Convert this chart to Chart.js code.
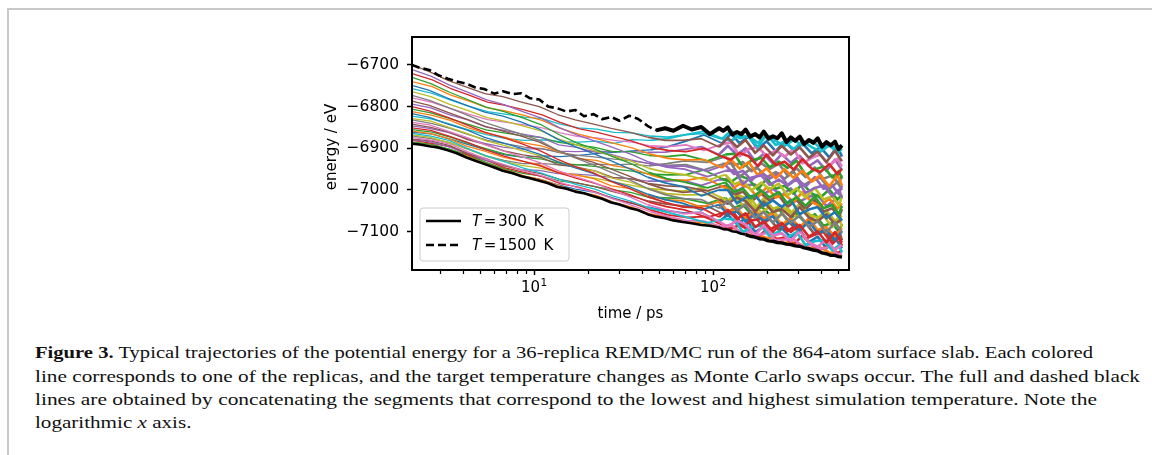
<!DOCTYPE html>
<html><head><meta charset="utf-8">
<script src="https://cdn.jsdelivr.net/npm/chart.js@4/dist/chart.umd.min.js"></script>
<style>
html,body{margin:0;padding:0;background:#fff;width:1152px;height:455px;overflow:hidden;position:relative;}
#frame{position:absolute;left:7px;top:8px;width:1145px;height:447px;border-top:2px solid #c8c8c8;border-left:2px solid #c8c8c8;box-sizing:border-box;}
#c{position:absolute;left:0;top:0;}
.cap{position:absolute;left:35px;font-family:"Liberation Serif","Times New Roman",serif;font-size:17.5px;color:#111;white-space:nowrap;transform-origin:0 0;line-height:17px;}
</style></head><body>
<div id="frame"></div>
<canvas id="c" width="1152" height="330" style="width:1152px;height:330px"></canvas>
<div class="cap" id="l1" style="top:344px"><b>Figure 3.</b> Typical trajectories of the potential energy for a 36-replica REMD/MC run of the 864-atom surface slab. Each colored</div>
<div class="cap" id="l2" style="top:367.5px">line corresponds to one of the replicas, and the target temperature changes as Monte Carlo swaps occur. The full and dashed black</div>
<div class="cap" id="l3" style="top:391px">lines are obtained by concatenating the segments that correspond to the lowest and highest simulation temperature. Note the</div>
<div class="cap" id="l4" style="top:414px">logarithmic <i>x</i> axis.</div>
<script>
// ---------- data (ps, eV) ----------
const timeColoredA = [2.08,2.6,3.3,4.2,5.3,6.7,8.5,10.7,13.5,17,21.5,27,34,43,54,68,86,108,121,136,152,172,192,216,242,272,305,343,384,430,480,525];
const timeColoredB = [2.08,2.7,3.4,4.3,5.5,6.9,8.8,11.1,14,17.7,22.3,28,35.3,44.6,56,70.6,89,112,126,141,158,178,199,224,251,282,316,356,398,446,496,525];
const timeColoredC = [2.08,2.65,3.35,4.25,5.4,6.8,8.65,10.9,13.75,17.3,21.9,27.5,34.6,43.8,55,69.3,93,117,131,147,164,186,207,233,261,293,329,370,414,464,505,525];
const timeBlack = [2.08,2.3,2.6,2.9,3.3,3.7,4.2,4.7,5.3,6.0,6.7,7.6,8.5,9.5,10.7,12,13.5,15.2,17,19,21.5,24,27,30,34,38,43,48,54,60,68,76,86,96,108,114,121,128,136,144,152,161,172,182,192,204,216,229,242,257,272,288,305,323,343,363,384,406,430,455,480,502,525];
const energyT300 = [-6889,-6891,-6895,-6898,-6905,-6912,-6922,-6930,-6938,-6946,-6954,-6960,-6967,-6972,-6978,-6984,-6993,-6997,-7004,-7008,-7015,-7021,-7030,-7035,-7043,-7048,-7058,-7064,-7068,-7073,-7077,-7080,-7084,-7086,-7090,-7094,-7095,-7099,-7101,-7105,-7107,-7111,-7113,-7117,-7118,-7122,-7123,-7126,-7127,-7130,-7131,-7134,-7135,-7139,-7141,-7144,-7146,-7151,-7153,-7157,-7157,-7160,-7161];
const energyT1500 = [-6700,-6707,-6712,-6724,-6733,-6740,-6745,-6754,-6758,-6769,-6763,-6770,-6768,-6780,-6783,-6800,-6804,-6812,-6808,-6823,-6818,-6830,-6825,-6834,-6822,-6829,-6846,-6857,-6852,-6858,-6846,-6855,-6849,-6866,-6852,-6858,-6850,-6867,-6861,-6866,-6855,-6872,-6866,-6874,-6860,-6877,-6871,-6876,-6864,-6885,-6874,-6882,-6872,-6890,-6880,-6887,-6876,-6896,-6885,-6893,-6884,-6902,-6893];

const r00 = [-6889,-6895,-6903,-6923,-6937,-6955,-6966,-6974,-6987,-6998,-7005,-7018,-7031,-7041,-7049,-7055,-7054,-7076,-7059,-7082,-7068,-7101,-7088,-7113,-7092,-7113,-7097,-7125,-7112,-7140,-7114,-7140];
const r01 = [-6887,-6891,-6903,-6919,-6937,-6951,-6966,-6976,-6991,-7004,-7013,-7030,-7041,-7058,-7066,-7077,-7079,-7090,-7088,-7099,-7107,-7108,-7115,-7115,-7127,-7126,-7132,-7141,-7138,-7150,-7152,-7161];
const r02 = [-6885,-6890,-6902,-6916,-6934,-6949,-6960,-6966,-6978,-6983,-6992,-7000,-7006,-7018,-7019,-7021,-7032,-7019,-7043,-7035,-7059,-7040,-7058,-7045,-7074,-7057,-7079,-7058,-7086,-7079,-7101,-7081];
const r03 = [-6881,-6888,-6896,-6916,-6930,-6947,-6958,-6968,-6985,-6993,-7005,-7022,-7031,-7048,-7060,-7066,-7064,-7083,-7093,-7084,-7095,-7113,-7095,-7118,-7114,-7131,-7109,-7133,-7143,-7132,-7152,-7145];
const r04 = [-6880,-6884,-6896,-6911,-6928,-6940,-6951,-6953,-6961,-6962,-6965,-6970,-6973,-6979,-6979,-6977,-6989,-6975,-6974,-7004,-6989,-6987,-7010,-6997,-7013,-6996,-7028,-7016,-7012,-7039,-7023,-7043];
const r05 = [-6878,-6882,-6893,-6912,-6925,-6942,-6953,-6961,-6974,-6983,-6992,-7004,-7014,-7027,-7034,-7039,-7039,-7060,-7043,-7065,-7052,-7084,-7070,-7095,-7074,-7095,-7079,-7107,-7094,-7121,-7096,-7121];
const r06 = [-6874,-6881,-6890,-6909,-6927,-6940,-6954,-6966,-6982,-6995,-7007,-7022,-7037,-7052,-7064,-7073,-7075,-7088,-7083,-7101,-7100,-7108,-7103,-7120,-7119,-7118,-7135,-7131,-7141,-7137,-7154,-7153];
const r07 = [-6870,-6877,-6886,-6902,-6918,-6929,-6937,-6936,-6940,-6940,-6938,-6940,-6938,-6942,-6937,-6930,-6934,-6920,-6941,-6933,-6955,-6936,-6950,-6937,-6965,-6948,-6969,-6946,-6973,-6965,-6986,-6965];
const r08 = [-6868,-6873,-6886,-6900,-6918,-6931,-6941,-6947,-6957,-6964,-6971,-6980,-6988,-6996,-7000,-7003,-6995,-7016,-7026,-7011,-7020,-7045,-7020,-7045,-7038,-7057,-7033,-7058,-7067,-7050,-7074,-7062];
const r09 = [-6864,-6871,-6881,-6900,-6918,-6932,-6947,-6959,-6974,-6987,-6998,-7014,-7027,-7043,-7053,-7064,-7079,-7069,-7071,-7101,-7088,-7086,-7110,-7100,-7114,-7101,-7132,-7123,-7120,-7145,-7133,-7150];
const r10 = [-6861,-6866,-6878,-6891,-6905,-6916,-6922,-6918,-6920,-6917,-6913,-6910,-6906,-6904,-6896,-6883,-6868,-6888,-6865,-6888,-6871,-6902,-6883,-6907,-6884,-6905,-6888,-6912,-6897,-6922,-6895,-6920];
const r11 = [-6859,-6864,-6876,-6895,-6907,-6921,-6931,-6939,-6957,-6964,-6973,-6990,-6996,-7012,-7023,-7026,-7041,-7028,-7052,-7044,-7068,-7050,-7068,-7055,-7084,-7067,-7089,-7068,-7096,-7089,-7112,-7091];
const r12 = [-6855,-6861,-6873,-6888,-6902,-6914,-6922,-6926,-6936,-6940,-6944,-6950,-6955,-6962,-6964,-6963,-6952,-6973,-6981,-6966,-6974,-6999,-6973,-6997,-6990,-7009,-6985,-7008,-7018,-6999,-7023,-7011];
const r13 = [-6851,-6857,-6871,-6886,-6904,-6919,-6931,-6943,-6959,-6972,-6984,-6998,-7012,-7029,-7040,-7048,-7066,-7053,-7055,-7087,-7073,-7069,-7095,-7083,-7099,-7083,-7117,-7107,-7101,-7129,-7114,-7134];
const r14 = [-6846,-6852,-6862,-6876,-6888,-6897,-6902,-6901,-6907,-6908,-6907,-6908,-6908,-6910,-6909,-6903,-6896,-6915,-6894,-6916,-6900,-6931,-6913,-6937,-6914,-6935,-6918,-6943,-6929,-6954,-6927,-6952];
const r15 = [-6842,-6850,-6861,-6879,-6891,-6906,-6916,-6922,-6940,-6945,-6954,-6970,-6973,-6985,-6990,-6992,-7002,-6989,-7012,-7004,-7027,-7009,-7025,-7013,-7041,-7024,-7046,-7024,-7052,-7044,-7066,-7046];
const r16 = [-6838,-6844,-6859,-6874,-6891,-6906,-6920,-6934,-6953,-6968,-6982,-7000,-7016,-7035,-7047,-7057,-7054,-7076,-7088,-7073,-7083,-7108,-7085,-7110,-7104,-7123,-7099,-7125,-7136,-7119,-7144,-7132];
const r17 = [-6832,-6841,-6852,-6867,-6881,-6889,-6897,-6901,-6911,-6917,-6921,-6926,-6930,-6937,-6941,-6939,-6952,-6938,-6936,-6968,-6953,-6948,-6970,-6957,-6973,-6956,-6990,-6977,-6970,-6997,-6981,-7000];
const r18 = [-6829,-6835,-6850,-6865,-6882,-6893,-6906,-6918,-6932,-6947,-6955,-6972,-6981,-6998,-7009,-7012,-7011,-7032,-7014,-7037,-7023,-7055,-7040,-7065,-7044,-7065,-7048,-7076,-7062,-7089,-7064,-7089];
const r19 = [-6823,-6830,-6842,-6856,-6868,-6876,-6881,-6880,-6884,-6885,-6883,-6888,-6879,-6881,-6877,-6867,-6864,-6878,-6858,-6876,-6871,-6887,-6868,-6882,-6894,-6880,-6893,-6881,-6900,-6893,-6901,-6893];
const r20 = [-6817,-6826,-6842,-6856,-6874,-6887,-6900,-6914,-6932,-6947,-6961,-6978,-6992,-7010,-7023,-7032,-7048,-7035,-7059,-7051,-7076,-7057,-7075,-7063,-7092,-7075,-7097,-7076,-7104,-7097,-7120,-7099];
const r21 = [-6812,-6821,-6833,-6851,-6865,-6874,-6887,-6895,-6909,-6925,-6929,-6942,-6949,-6964,-6975,-6977,-6970,-6991,-7000,-6985,-6994,-7018,-6993,-7018,-7011,-7029,-7005,-7029,-7039,-7020,-7045,-7032];
const r22 = [-6806,-6815,-6828,-6842,-6856,-6863,-6870,-6874,-6886,-6892,-6898,-6908,-6908,-6917,-6920,-6916,-6930,-6915,-6913,-6945,-6929,-6923,-6945,-6932,-6947,-6930,-6964,-6951,-6944,-6970,-6954,-6973];
const r23 = [-6800,-6810,-6826,-6844,-6861,-6874,-6889,-6905,-6926,-6944,-6959,-6980,-6996,-7016,-7030,-7041,-7043,-7065,-7048,-7070,-7056,-7089,-7075,-7100,-7079,-7101,-7084,-7112,-7099,-7126,-7101,-7126];
const r24 = [-6794,-6803,-6819,-6832,-6849,-6857,-6866,-6874,-6892,-6898,-6909,-6916,-6928,-6937,-6943,-6943,-6955,-6940,-6962,-6954,-6977,-6957,-6973,-6960,-6988,-6971,-6992,-6969,-6997,-6989,-7010,-6989];
const r25 = [-6787,-6797,-6814,-6830,-6847,-6859,-6871,-6885,-6905,-6921,-6934,-6950,-6967,-6985,-6998,-7006,-7002,-7023,-7033,-7018,-7027,-7052,-7028,-7053,-7046,-7065,-7041,-7066,-7075,-7058,-7082,-7070];
const r26 = [-6779,-6790,-6804,-6818,-6831,-6837,-6844,-6851,-6863,-6872,-6875,-6881,-6885,-6894,-6896,-6892,-6905,-6890,-6886,-6919,-6902,-6897,-6918,-6905,-6920,-6902,-6936,-6923,-6915,-6941,-6925,-6944];
const r27 = [-6773,-6785,-6802,-6820,-6838,-6852,-6866,-6881,-6905,-6923,-6940,-6958,-6975,-6996,-7011,-7021,-7023,-7044,-7026,-7049,-7035,-7067,-7053,-7078,-7056,-7078,-7061,-7089,-7075,-7103,-7077,-7102];
const r28 = [-6764,-6776,-6794,-6809,-6826,-6835,-6846,-6858,-6878,-6892,-6906,-6918,-6930,-6948,-6958,-6963,-6977,-6963,-6986,-6978,-7001,-6982,-6998,-6985,-7013,-6996,-7018,-6995,-7023,-7015,-7037,-7016];
const r29 = [-6757,-6768,-6784,-6799,-6812,-6818,-6825,-6829,-6842,-6851,-6854,-6862,-6863,-6871,-6873,-6867,-6859,-6876,-6882,-6869,-6873,-6897,-6868,-6892,-6884,-6902,-6883,-6897,-6908,-6893,-6911,-6901];
const r30 = [-6749,-6761,-6780,-6797,-6813,-6823,-6837,-6854,-6878,-6896,-6913,-6930,-6949,-6969,-6983,-6992,-7014,-7000,-7000,-7032,-7018,-7013,-7038,-7025,-7041,-7024,-7058,-7047,-7041,-7068,-7053,-7073];
const r31 = [-6740,-6752,-6772,-6786,-6803,-6810,-6821,-6833,-6852,-6866,-6877,-6888,-6899,-6914,-6924,-6928,-6927,-6947,-6927,-6949,-6933,-6965,-6948,-6972,-6950,-6971,-6954,-6980,-6965,-6991,-6965,-6989];
const r32 = [-6730,-6745,-6765,-6783,-6801,-6812,-6827,-6843,-6867,-6887,-6902,-6920,-6936,-6958,-6973,-6981,-6995,-6982,-7005,-6997,-7020,-7001,-7018,-7005,-7033,-7017,-7038,-7016,-7044,-7036,-7058,-7038];
const r33 = [-6721,-6736,-6756,-6772,-6789,-6797,-6808,-6820,-6838,-6853,-6861,-6872,-6883,-6898,-6905,-6908,-6900,-6920,-6927,-6911,-6919,-6943,-6915,-6940,-6932,-6951,-6926,-6949,-6957,-6938,-6962,-6949];
const r34 = [-6711,-6727,-6748,-6765,-6783,-6795,-6812,-6827,-6850,-6868,-6883,-6898,-6914,-6933,-6945,-6950,-6968,-6954,-6953,-6985,-6970,-6965,-6988,-6975,-6990,-6974,-7007,-6995,-6989,-7015,-6999,-7019];
const r35 = [-6700,-6716,-6737,-6753,-6769,-6776,-6789,-6800,-6819,-6832,-6842,-6852,-6861,-6873,-6881,-6881,-6877,-6897,-6875,-6897,-6880,-6911,-6893,-6917,-6894,-6915,-6898,-6923,-6908,-6933,-6906,-6931];
const replicas = [r00,r01,r02,r03,r04,r05,r06,r07,r08,r09,r10,r11,r12,r13,r14,r15,r16,r17,r18,r19,r20,r21,r22,r23,r24,r25,r26,r27,r28,r29,r30,r31,r32,r33,r34,r35];
// sampling grid used by each replica (0 = A, 1 = B, 2 = C)
const replicaGrid = [0,1,2,1,0,2,1,2,0,2,1,0,1,2,0,2,0,1,2,1,0,1,2,0,2,0,1,0,2,1,0,1,2,1,2,0];

const yTickValues = [-7100,-7000,-6900,-6800,-6700];
const xMajorTicks = [10,100];
const xMajorExponents = ['1','2'];
const xMinorTicks = [3,4,5,6,7,8,9,20,30,40,50,60,70,80,90,200,300,400,500];
const legendLabels = [{sym:'T', rest:'300', unit:'K', dash:[]},{sym:'T', rest:'1500', unit:'K', dash:[8,4]}];
const tab10 = ['#1f77b4','#ff7f0e','#2ca02c','#d62728','#9467bd','#8c564b','#e377c2','#7f7f7f','#bcbd22','#17becf'];

// ---------- datasets ----------
const grids = [timeColoredA, timeColoredB, timeColoredC];
const zip = (ts, vs) => ts.map((t,i)=>({x:t, y:vs[i]}));
const datasets = [
  {label:'T = 300 K', data: zip(timeBlack, energyT300), borderColor:'#000', borderWidth:2.6, order:0,
   segment:{borderWidth: c => (c.p0.parsed.x >= 150 ? 3.4 : undefined)}},
  {label:'T = 1500 K', data: zip(timeBlack, energyT1500), borderColor:'#000', borderWidth:2.6, borderDash:[8,4], order:1,
   segment:{borderDash: c => (c.p0.parsed.x >= 45 ? [] : undefined), borderWidth: c => (c.p0.parsed.x >= 45 ? 4 : undefined)}}
];
replicas.forEach((r,k)=>{
  datasets.push({label:'replica '+(k+1), data: zip(grids[replicaGrid[k]], r), borderColor: tab10[k%10], borderWidth:1.3, order: 2+(35-k),
    segment:{borderWidth: c => (c.p0.parsed.x >= 100 ? 2.6 : (c.p0.parsed.x >= 40 ? 1.8 : undefined))}});
});

const FONT = '"DejaVu Sans", sans-serif';

const decor = {
  id:'decor',
  afterDatasetsDraw(chart){
    const ctx = chart.ctx, a = chart.chartArea;
    ctx.save();
    ctx.strokeStyle = '#000'; ctx.lineWidth = 2;
    ctx.strokeRect(a.left, a.top, a.right-a.left, a.bottom-a.top);
    const x0 = a.left+8, y0 = a.bottom-62, w = 149, h = 53, r = 3;
    ctx.beginPath();
    ctx.moveTo(x0+r,y0); ctx.lineTo(x0+w-r,y0); ctx.arcTo(x0+w,y0,x0+w,y0+r,r);
    ctx.lineTo(x0+w,y0+h-r); ctx.arcTo(x0+w,y0+h,x0+w-r,y0+h,r);
    ctx.lineTo(x0+r,y0+h); ctx.arcTo(x0,y0+h,x0,y0+h-r,r);
    ctx.lineTo(x0,y0+r); ctx.arcTo(x0,y0,x0+r,y0,r); ctx.closePath();
    ctx.fillStyle = 'rgba(255,255,255,0.8)'; ctx.fill();
    ctx.strokeStyle = '#cccccc'; ctx.lineWidth = 1; ctx.stroke();
    legendLabels.forEach((e,i)=>{
      const y = y0 + 13 + i*24;
      ctx.beginPath(); ctx.setLineDash(e.dash); ctx.strokeStyle='#000'; ctx.lineWidth=2.4;
      ctx.moveTo(x0+6,y); ctx.lineTo(x0+41,y); ctx.stroke(); ctx.setLineDash([]);
      ctx.fillStyle='#000'; ctx.textBaseline='middle'; ctx.textAlign='left';
      let x = x0+52;
      ctx.font = 'italic 15px '+FONT; ctx.fillText(e.sym, x, y+1); x += ctx.measureText(e.sym).width + 2.5;
      ctx.font = '15px '+FONT; ctx.fillText('=', x, y+1); x += ctx.measureText('=').width + 2;
      ctx.fillText(e.rest, x, y+1); x += ctx.measureText(e.rest).width + 7;
      ctx.fillText(e.unit, x, y+1);
    });
    ctx.restore();
  },
  afterDraw(chart){
    const ctx = chart.ctx, a = chart.chartArea, xs = chart.scales.x;
    ctx.save();
    ctx.strokeStyle='#000'; ctx.lineWidth=1.2;
    xMinorTicks.forEach(v=>{
      const px = Math.round(xs.getPixelForValue(v))+0.5;
      ctx.beginPath(); ctx.moveTo(px, a.bottom+1); ctx.lineTo(px, a.bottom+4); ctx.stroke();
    });
    ctx.fillStyle='#000'; ctx.textBaseline='alphabetic'; ctx.textAlign='left';
    xMajorTicks.forEach((v,i)=>{
      const px = xs.getPixelForValue(v);
      ctx.font='15px '+FONT; const wb = ctx.measureText('10').width;
      ctx.font='10.5px '+FONT; const we = ctx.measureText(xMajorExponents[i]).width;
      const x = px - (wb+we+0.5)/2;
      ctx.font='15px '+FONT; ctx.fillText('10', x, 292);
      ctx.font='10.5px '+FONT; ctx.fillText(xMajorExponents[i], x+wb+0.5, 285.5);
    });
    ctx.font='15px '+FONT; ctx.textAlign='center';
    ctx.fillText('time / ps', (a.left+a.right)/2, 317.5);
    ctx.translate(335.5, 147); ctx.rotate(-Math.PI/2);
    ctx.fillText('energy / eV', 0, 0);
    ctx.restore();
  }
};

new Chart(document.getElementById('c'), {
  type:'line',
  data:{datasets},
  options:{
    responsive:false, animation:false, devicePixelRatio:1,
    layout:{padding:{left:340, right:303, top:37, bottom:0}},
    elements:{line:{tension:0, borderJoinStyle:'round', borderCapStyle:'butt'}, point:{radius:0, hoverRadius:0}},
    plugins:{legend:{display:false}, tooltip:{enabled:false}},
    events:[],
    scales:{
      x:{type:'logarithmic', position:'bottom', min:2.08, max:575,
        afterBuildTicks: s => { s.ticks = xMajorTicks.map(v=>({value:v})); },
        afterFit: s => { s.height = 60; },
        ticks:{callback:()=>' ', autoSkip:false, maxRotation:0, padding:2, color:'#000', font:{family:FONT, size:15}},
        grid:{drawOnChartArea:false, drawTicks:true, tickLength:5, tickWidth:1.5, tickColor:'#000'},
        border:{display:false}},
      y:{type:'linear', position:'left', min:-7192, max:-6633,
        afterBuildTicks: s => { s.ticks = yTickValues.map(v=>({value:v})); },
        afterFit: s => { s.width = 72; },
        ticks:{callback:(v)=>'\u2212'+Math.abs(v), autoSkip:false, padding:8, color:'#000', font:{family:FONT, size:15.5}},
        grid:{drawOnChartArea:false, drawTicks:true, tickLength:5, tickWidth:1.5, tickColor:'#000'},
        border:{display:false}}
    }
  },
  plugins:[decor]
});

// caption line fitting (layout only)
const capTargets = {l1:1058, l2:1105, l3:1062};
let factors = [];
Object.keys(capTargets).forEach(id=>{
  const el = document.getElementById(id);
  const w = el.getBoundingClientRect().width;
  const f = capTargets[id]/w; factors.push(f);
  el.style.transform = 'scaleX('+f+')';
});
const avg = factors.reduce((a,b)=>a+b,0)/factors.length;
document.getElementById('l4').style.transform = 'scaleX('+avg+')';
</script>
</body></html>
